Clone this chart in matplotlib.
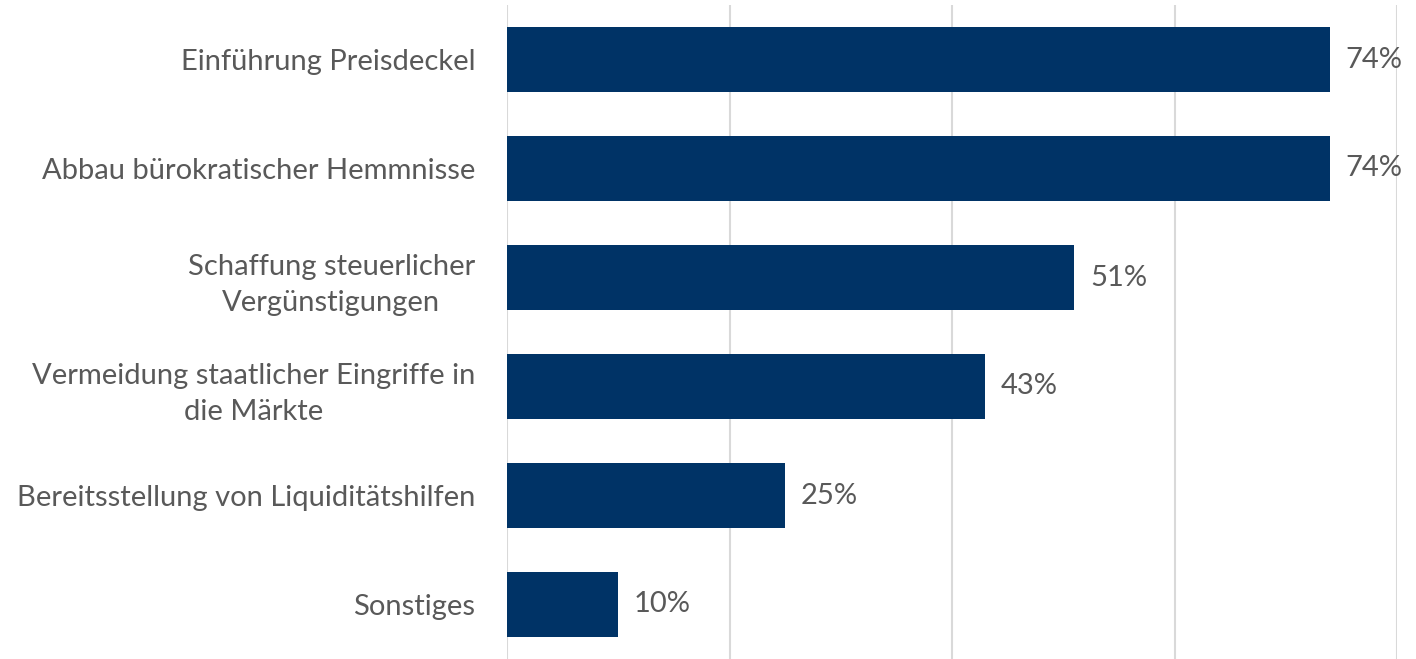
import matplotlib
matplotlib.use("Agg")
import matplotlib.pyplot as plt

# data
categories = [
    "Einführung Preisdeckel",
    "Abbau bürokratischer Hemmnisse",
    "Schaffung steuerlicher\nVergünstigungen",
    "Vermeidung staatlicher Eingriffe in\ndie Märkte",
    "Bereitsstellung von Liquiditätshilfen",
    "Sonstiges",
]
values = [74, 74, 51, 43, 25, 10]
xticks = [0, 20, 40, 60, 80]

bar_color = "#003366"
text_color = "#595959"
grid_color = "#d9d9d9"

plt.rcParams['font.family'] = ['Lato', 'DejaVu Sans']

fig = plt.figure(figsize=(14.16, 6.59), dpi=100)
ax = fig.add_axes([507 / 1416, 0, (1397 - 507) / 1416, 654 / 659])

ypos = list(range(len(categories)))
ax.barh(ypos, values, height=0.59, color=bar_color, zorder=2)

for y, v in zip(ypos, values):
    ax.text(v + 1.4, y, f"{v}%", va="center", ha="left",
            fontsize=21, color=text_color, clip_on=False)

ax.set_ylim(len(categories) - 0.5, -0.5)
ax.set_xlim(0, 80)
ax.set_xticks(xticks)
ax.set_xticklabels([])
ax.grid(axis="x", color=grid_color, linewidth=1.5, zorder=0)
ax.tick_params(axis="x", length=0)
ax.tick_params(axis="y", length=0, pad=23)

ax.set_yticks(ypos)
ax.set_yticklabels(categories, fontsize=21, color=text_color, ha="right",
                   multialignment="center", linespacing=1.5)

for s in ax.spines.values():
    s.set_visible(False)

fig.savefig("out.png", dpi=100)
